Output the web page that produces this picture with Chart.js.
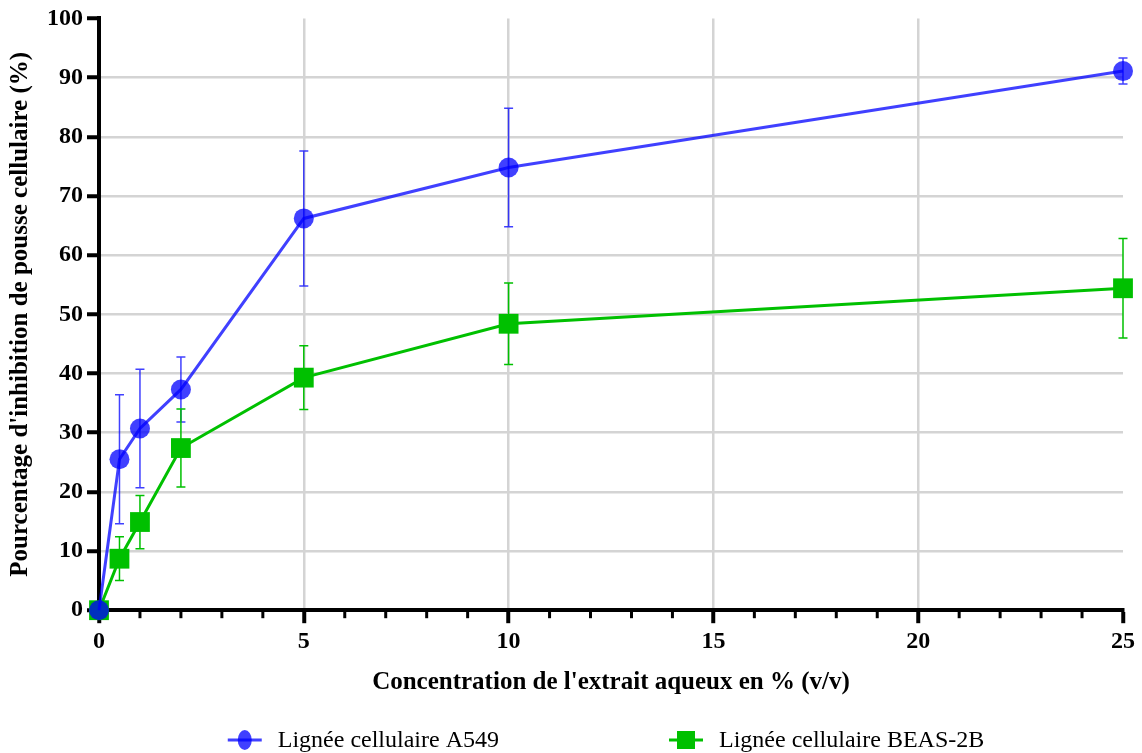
<!DOCTYPE html>
<html>
<head>
<meta charset="utf-8">
<script src="https://cdn.jsdelivr.net/npm/chart.js@4.4.1/dist/chart.umd.min.js"></script>
<style>
  html, body { margin: 0; padding: 0; background: #fff; }
  #wrap { width: 1142px; height: 753px; }
</style>
</head>
<body>
<div id="wrap"><canvas id="chart"></canvas></div>
<script>
const concentrations = [0, 0.5, 1, 2, 5, 10, 25];
const a549Mean = [0, 25.5, 30.7, 37.3, 66.2, 74.8, 91.1];
const a549Err = [0, 10.9, 10.0, 5.5, 11.4, 10.0, 2.2];
const beasMean = [0, 8.7, 14.9, 27.4, 39.3, 48.4, 54.4];
const beasErr = [0, 3.7, 4.5, 6.6, 5.4, 6.9, 8.4];

const BLUE = 'rgba(0, 0, 255, 0.75)';
const GREEN = '#00c000';
const SERIF = '"Liberation Serif", "Times New Roman", serif';

function points(means) {
    return concentrations.map((c, i) => ({ x: c, y: means[i] }));
}

// error bars with small caps, drawn under the markers
const errorBars = {
    id: 'errorBars',
    beforeDatasetsDraw(chart) {
        const ctx = chart.ctx;
        const xs = chart.scales.x, ys = chart.scales.y;
        chart.data.datasets.forEach(ds => {
            ctx.save();
            ctx.strokeStyle = ds.borderColor;
            ctx.lineWidth = 1.5;
            ds.data.forEach((p, j) => {
                const e = ds.errors[j];
                if (!e) return;
                const px = xs.getPixelForValue(p.x);
                const top = ys.getPixelForValue(p.y + e);
                const bot = ys.getPixelForValue(p.y - e);
                ctx.beginPath();
                ctx.moveTo(px, top); ctx.lineTo(px, bot);
                ctx.moveTo(px - 4.5, top); ctx.lineTo(px + 4.5, top);
                ctx.moveTo(px - 4.5, bot); ctx.lineTo(px + 4.5, bot);
                ctx.stroke();
            });
            ctx.restore();
        });
    }
};

// short minor ticks on the x axis
const minorTicks = {
    id: 'minorTicks',
    afterDraw(chart) {
        const ctx = chart.ctx;
        const xs = chart.scales.x;
        const y0 = chart.chartArea.bottom;
        ctx.save();
        ctx.strokeStyle = '#000';
        ctx.lineWidth = 3;
        for (let v = 1; v < 25; v++) {
            if (v % 5 === 0) continue;
            const px = xs.getPixelForValue(v);
            ctx.beginPath();
            ctx.moveTo(px, y0);
            ctx.lineTo(px, y0 + 8);
            ctx.stroke();
        }
        ctx.restore();
    }
};

// legend with line + marker, like the original
const lineLegend = {
    id: 'lineLegend',
    afterDraw(chart) {
        const ctx = chart.ctx;
        const area = chart.chartArea;
        const yc = 740;
        ctx.save();
        ctx.font = '24px ' + SERIF;
        ctx.textBaseline = 'middle';
        const items = chart.data.datasets.map(ds => ({ ds, w: ctx.measureText(ds.label).width }));
        const sym = 34, gap = 16, between = 170;
        let total = between * (items.length - 1);
        items.forEach(it => { total += sym + gap + it.w; });
        let x = (area.left + area.right) / 2 - total / 2 - 5;
        items.forEach(it => {
            const ds = it.ds;
            ctx.strokeStyle = ds.borderColor;
            ctx.lineWidth = 3;
            ctx.beginPath();
            ctx.moveTo(x, yc); ctx.lineTo(x + sym, yc);
            ctx.stroke();
            ctx.fillStyle = ds.backgroundColor;
            const cx = x + sym / 2;
            if (ds.pointStyle === 'circle') {
                ctx.beginPath();
                ctx.ellipse(cx, yc, 7, 10, 0, 0, Math.PI * 2);
                ctx.fill();
            } else {
                ctx.fillRect(cx - 9, yc - 9, 18, 18);
            }
            ctx.fillStyle = '#000';
            ctx.fillText(ds.label, x + sym + gap, yc + 1);
            x += sym + gap + it.w + between;
        });
        ctx.restore();
    }
};

new Chart(document.getElementById('chart').getContext('2d'), {
    type: 'line',
    data: {
        datasets: [{
            label: 'Lignée cellulaire A549',
            data: points(a549Mean),
            errors: a549Err,
            borderColor: BLUE,
            backgroundColor: BLUE,
            borderWidth: 3,
            pointStyle: 'circle',
            pointRadius: 10,
            pointBorderWidth: 0,
            pointHoverRadius: 10,
            clip: false
        }, {
            label: 'Lignée cellulaire BEAS-2B',
            data: points(beasMean),
            errors: beasErr,
            borderColor: GREEN,
            backgroundColor: GREEN,
            borderWidth: 3,
            pointStyle: 'rect',
            pointRadius: 14,
            pointBorderWidth: 0,
            pointHoverRadius: 14,
            clip: false
        }]
    },
    options: {
        responsive: true,
        maintainAspectRatio: false,
        animation: false,
        layout: { padding: { top: 16, right: 19, bottom: 55, left: 0 } },
        plugins: {
            legend: { display: false },
            tooltip: { enabled: false }
        },
        scales: {
            x: {
                type: 'linear',
                min: 0,
                max: 25,
                ticks: {
                    stepSize: 1,
                    autoSkip: false,
                    maxRotation: 0,
                    padding: 4,
                    color: '#000',
                    font: { family: SERIF, size: 24, weight: 'bold' },
                    callback: v => (v % 5 === 0 ? v : '')
                },
                grid: {
                    color: c => (c.tick && c.tick.value % 5 === 0 && c.tick.value !== 0 && c.tick.value !== 25) ? '#d4d4d4' : 'transparent',
                    lineWidth: 2.5,
                    tickLength: 13,
                    tickWidth: 4,
                    tickColor: c => (c.tick && c.tick.value % 5 === 0) ? '#000' : 'transparent'
                },
                border: { color: '#000', width: 4 },
                title: {
                    display: true,
                    text: "Concentration de l'extrait aqueux en % (v/v)",
                    color: '#000',
                    font: { family: SERIF, size: 25, weight: 'bold' },
                    padding: { top: 8, bottom: 0 }
                }
            },
            y: {
                min: 0,
                max: 100,
                ticks: {
                    stepSize: 10,
                    padding: 4,
                    color: '#000',
                    font: { family: SERIF, size: 24, weight: 'bold' }
                },
                grid: {
                    color: c => (c.tick && (c.tick.value === 0 || c.tick.value === 100)) ? 'transparent' : '#d4d4d4',
                    lineWidth: 2.5,
                    tickLength: 12,
                    tickWidth: 4,
                    tickColor: '#000'
                },
                border: { color: '#000', width: 4 },
                title: {
                    display: true,
                    text: "Pourcentage d'inhibition de pousse cellulaire (%)",
                    color: '#000',
                    font: { family: SERIF, size: 25, weight: 'bold' },
                    padding: { top: 6, bottom: 7 }
                }
            }
        }
    },
    plugins: [errorBars, minorTicks, lineLegend]
});
</script>
</body>
</html>
